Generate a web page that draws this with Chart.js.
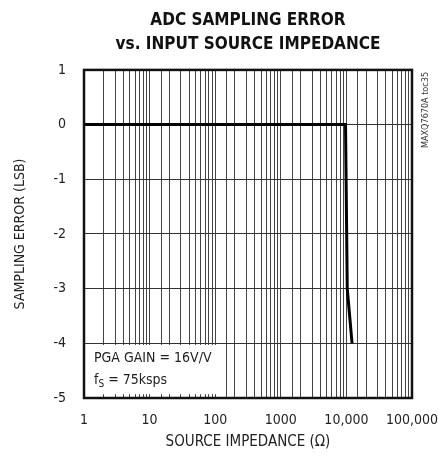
<!DOCTYPE html>
<html>
<head>
<meta charset="utf-8">
<script src="https://cdn.jsdelivr.net/npm/chart.js@4.4.0/dist/chart.umd.min.js"></script>
<style>
  html, body { margin: 0; padding: 0; background: #fff; }
  #graph { display: block; }
</style>
</head>
<body>
<canvas id="graph" width="438" height="459"></canvas>
<script>
// data
var impedance = [1, 9700, 10300, 12200];       // ohms
var samplingError = [0, 0, -3, -4];            // LSB
var decadeLabels = [1, 10, 100, 1000, 10000, 100000];
var decadeText = ['1', '10', '100', '1000', '10,000', '100,000'];
var noteLines = ['PGA GAIN = 16V/V', 'f', 'S', ' = 75ksps'];
var tocText = 'MAXQ7670A toc35';

var police = "'Liberation Sans Narrow', 'DejaVu Sans Condensed', 'Liberation Sans', sans-serif";

// white box with the conditions, border and vertical ref text
var decorPlugin = {
    id: 'decor',
    beforeDatasetsDraw: function (chart) {
        var ctx = chart.ctx;
        var xs = chart.scales.x, ys = chart.scales.y;
        var a = chart.chartArea;
        var x0 = a.left, x1 = xs.getPixelForValue(113);
        var y0 = ys.getPixelForValue(-4.03), y1 = ys.getPixelForValue(-4.93);
        ctx.save();
        ctx.fillStyle = '#fff';
        ctx.fillRect(x0, y0, x1 - x0, y1 - y0);
        ctx.fillStyle = '#222';
        ctx.font = '14px ' + police;
        ctx.textBaseline = 'alphabetic';
        ctx.fillText(noteLines[0], a.left + 10, y0 + 17);
        var bx = a.left + 10, by = y0 + 39;
        ctx.fillText(noteLines[1], bx, by);
        var w = ctx.measureText(noteLines[1]).width;
        ctx.font = '10px ' + police;
        ctx.fillText(noteLines[2], bx + w, by + 3);
        var w2 = ctx.measureText(noteLines[2]).width;
        ctx.font = '14px ' + police;
        ctx.fillText(noteLines[3], bx + w + w2, by);
        ctx.restore();
    },
    afterDraw: function (chart) {
        var ctx = chart.ctx;
        var a = chart.chartArea;
        ctx.save();
        ctx.strokeStyle = '#111';
        ctx.lineWidth = 2.5;
        ctx.strokeRect(a.left, a.top, a.right - a.left, a.bottom - a.top);
        ctx.translate(a.right + 14, a.top + 2);
        ctx.rotate(-Math.PI / 2);
        ctx.font = '9px ' + police;
        ctx.fillStyle = '#333';
        ctx.textAlign = 'right';
        ctx.textBaseline = 'middle';
        ctx.fillText(tocText, 0, 0);
        ctx.restore();
    }
};

var ctx = document.getElementById('graph').getContext('2d');
var chart = new Chart(ctx, {
    type: 'line',
    data: {
        datasets: [{
            label: 'sampling error',
            data: impedance.map(function (v, i) { return { x: v, y: samplingError[i] }; }),
            borderColor: '#000',
            borderWidth: 3,
            pointRadius: 0,
            fill: false,
            tension: 0
        }]
    },
    options: {
        responsive: false,
        animation: false,
        layout: { padding: { left: 8, right: 26, top: 0, bottom: 4 } },
        plugins: {
            legend: { display: false },
            tooltip: { enabled: false },
            title: {
                display: true,
                fullSize: false,
                text: ['ADC SAMPLING ERROR', 'vs. INPUT SOURCE IMPEDANCE'],
                color: '#111',
                font: { family: police, size: 17, weight: 'bold', lineHeight: 1.38 },
                padding: { top: 9, bottom: 14 }
            }
        },
        scales: {
            x: {
                type: 'logarithmic',
                min: 1,
                max: 100000,
                afterFit: function (s) { s.height = 57; s.paddingLeft = 0; s.paddingRight = 0; },
                grid: { color: '#444', lineWidth: 1, drawTicks: false },
                border: { display: false },
                ticks: {
                    color: '#222',
                    font: { family: police, size: 14 },
                    padding: 14,
                    autoSkip: false,
                    maxRotation: 0,
                    callback: function (v) {
                        var k = decadeLabels.indexOf(v);
                        return k >= 0 ? decadeText[k] : '';
                    }
                },
                title: {
                    display: true,
                    text: 'SOURCE IMPEDANCE (Ω)',
                    color: '#222',
                    font: { family: police, size: 15 },
                    padding: { top: 1 }
                }
            },
            y: {
                min: -5,
                max: 1,
                afterFit: function (s) { s.width = 76; },
                grid: { color: '#333', lineWidth: 1, drawTicks: false },
                border: { display: false },
                ticks: {
                    stepSize: 1,
                    color: '#222',
                    font: { family: police, size: 14 },
                    padding: 18
                },
                title: {
                    display: true,
                    text: 'SAMPLING ERROR (LSB)',
                    color: '#222',
                    font: { family: police, size: 14 },
                    padding: { bottom: 0 }
                }
            }
        }
    },
    plugins: [decorPlugin]
});
</script>
</body>
</html>
